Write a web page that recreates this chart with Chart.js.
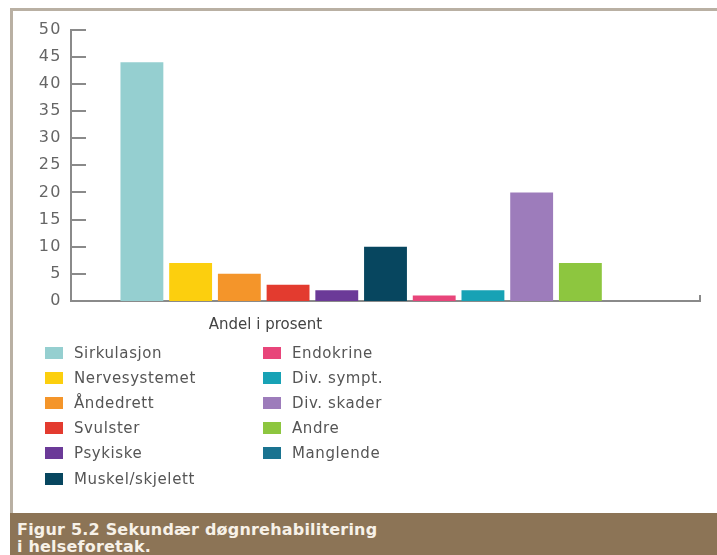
<!DOCTYPE html>
<html>
<head>
<meta charset="utf-8">
<script src="https://cdn.jsdelivr.net/npm/chart.js@4/dist/chart.umd.min.js"></script>
<style>
  body { margin: 0; background: #fff; }
  #page { position: relative; width: 717px; height: 555px; overflow: hidden; background: #fff; }
  #frame { position: absolute; left: 10px; top: 8px; right: -5px; bottom: 0; border-top: 3px solid #b9b0a3; border-left: 3px solid #b9b0a3; }
  #chartBox { position: absolute; left: 13px; top: 11px; width: 704px; height: 330px; }
  #legend { position: absolute; left: 45px; top: 340px; display: grid; grid-template-columns: 218px auto;
            grid-template-rows: repeat(6, 25.2px); grid-auto-flow: column; font: 15px "DejaVu Sans", sans-serif;
            letter-spacing: 0.6px; color: #555; }
  .item { display: flex; align-items: center; white-space: nowrap; }
  .box { width: 18px; height: 12px; margin-right: 11px; flex: none; }
  #caption { position: absolute; left: 10px; top: 513px; right: 0; bottom: 0; background: #8c7456; color: #f7f1e8;
             font: bold 16px "DejaVu Sans", sans-serif; letter-spacing: 0.2px; line-height: 17px; padding: 8px 0 0 7px; }
</style>
</head>
<body>
<div id="page">
  <div id="frame"></div>
  <div id="chartBox"><canvas id="chart"></canvas></div>
  <div id="legend"></div>
  <div id="caption">Figur 5.2 Sekundær døgnrehabilitering<br>i helseforetak.</div>
</div>
<script>
const categories = ["Andel i prosent"]
const seriesNames = ["Sirkulasjon", "Nervesystemet", "Åndedrett", "Svulster", "Psykiske", "Muskel/skjelett",
  "Endokrine", "Div. sympt.", "Div. skader", "Andre", "Manglende"]
const values = [44, 7, 5, 3, 2, 10, 1, 2, 20, 7, 0]
const colors = ["#95cfd0", "#fccf0e", "#f4952a", "#e33b2f", "#6b3a98", "#07465f",
  "#e8457a", "#17a2b5", "#9d7cbb", "#8dc63f", "#1a7390"]
const yMin = 0
const yMax = 50
const yStep = 5

// short tick marks drawn inside the plot, like the printed figure
const innerTicks = {
  id: "innerTicks",
  afterLayout(chart) {
    // the printed digits are wide, space them out a little
    const y = chart.scales.y
    if (y._spaced) return
    const orig = y.drawLabels
    y.drawLabels = function (area) {
      this.ctx.save()
      this.ctx.letterSpacing = "1.5px"
      orig.call(this, area)
      this.ctx.restore()
    }
    y._spaced = true
  },
  afterDraw(chart) {
    const ctx = chart.ctx
    const area = chart.chartArea
    const y = chart.scales.y
    ctx.save()
    ctx.strokeStyle = "#8a8a8a"
    ctx.lineWidth = 2
    y.ticks.forEach(t => {
      const py = Math.round(y.getPixelForValue(t.value))
      ctx.beginPath()
      ctx.moveTo(area.left, py)
      ctx.lineTo(area.left + 15, py)
      ctx.stroke()
    })
    ctx.beginPath()
    ctx.moveTo(area.right, area.bottom)
    ctx.lineTo(area.right, area.bottom - 6)
    ctx.stroke()
    ctx.restore()
  }
}

const chart = new Chart(document.getElementById("chart").getContext("2d"), {
  type: "bar",
  data: {
    labels: categories,
    datasets: seriesNames.map((name, i) => ({
      label: name,
      data: [values[i]],
      backgroundColor: colors[i],
      borderWidth: 0
    }))
  },
  options: {
    responsive: true,
    maintainAspectRatio: false,
    animation: false,
    datasets: { bar: { categoryPercentage: 0.852, barPercentage: 0.88 } },
    layout: { padding: { left: 0, right: 17, top: 16, bottom: 0 } },
    plugins: { legend: { display: false }, tooltip: { enabled: false } },
    scales: {
      x: {
        grid: { display: false },
        border: { display: true, color: "#8a8a8a", width: 2 },
        ticks: { color: "#444", padding: 7, labelOffset: -120, font: { family: "DejaVu Sans", size: 15 } },
        afterFit(scale) { scale.height = 40 }
      },
      y: {
        min: yMin,
        max: yMax,
        grid: { display: false, drawTicks: false },
        border: { display: true, color: "#8a8a8a", width: 2 },
        ticks: { stepSize: yStep, color: "#666", padding: 9, font: { family: "DejaVu Sans", size: 16 } },
        afterFit(scale) { scale.width = 58 }
      }
    }
  },
  plugins: [innerTicks]
})

// html legend in two columns, filled top to bottom
const legendEl = document.getElementById("legend")
chart.data.datasets.forEach(ds => {
  const item = document.createElement("div")
  item.className = "item"
  const box = document.createElement("span")
  box.className = "box"
  box.style.background = ds.backgroundColor
  item.appendChild(box)
  item.appendChild(document.createTextNode(ds.label))
  legendEl.appendChild(item)
})
</script>
</body>
</html>
